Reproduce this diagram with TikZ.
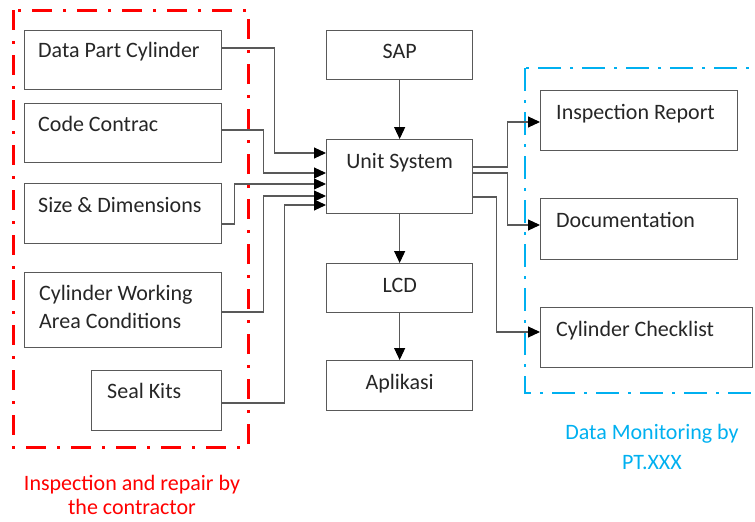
\documentclass[tikz,border=0pt]{standalone}
\usepackage{fontspec}
\setmainfont{Carlito}
\usepackage{tikz}
\usetikzlibrary{arrows.meta}
\usetikzlibrary{calc}
\usetikzlibrary{positioning}
\definecolor{linegray}{HTML}{595959}
\definecolor{framered}{HTML}{FF0000}
\definecolor{frameblue}{HTML}{00B0F0}
\tikzstyle{block} = [draw=linegray,rectangle,line width=1.3pt,anchor=north west,inner sep=0pt]
\tikzstyle{connector} = [-{Triangle[length=12pt,width=11pt,color=black]},draw=linegray,line width=1.1pt]
\tikzstyle{boxtext} = [inner sep=0pt,text=black!85,font=\fontsize{22}{28}\selectfont]
\tikzstyle{redframe} = [draw=framered,line width=3pt,dash pattern=on 20pt off 11pt on 3pt off 11pt]
\tikzstyle{blueframe} = [draw=frameblue,line width=2.5pt,dash pattern=on 23pt off 9pt on 3pt off 9pt]

\begin{document}
\begin{tikzpicture}[x=1pt,y=-1pt]
  \clip (0,0) rectangle (755,522);

  % left column
  \node[block, minimum width=197pt, minimum height=59pt] (dpc) at (24,30) {};
  \node[block, minimum width=197pt, minimum height=59pt] (code) at (24,103) {};
  \node[block, minimum width=197pt, minimum height=60pt] (size) at (24,183) {};
  \node[block, minimum width=197pt, minimum height=75pt] (cwa) at (24,272) {};
  \node[block, minimum width=130pt, minimum height=60pt] (seal) at (91,370) {};

  \node[boxtext, anchor=base west] (dpct) at ($(dpc.north west)+(14,27)$) {Data Part Cylinder};
  \node[boxtext, anchor=base west] (codet) at ($(code.north west)+(14,28)$) {Code Contrac};
  \node[boxtext, anchor=base west] (sizet) at ($(size.north west)+(14,29)$) {Size \& Dimensions};
  \node[boxtext, anchor=base west] (cwat1) at ($(cwa.north west)+(15,28)$) {Cylinder Working};
  \node[boxtext, anchor=base west] (cwat2) at ($(cwa.north west)+(15,56)$) {Area Conditions};
  \node[boxtext, anchor=base west] (sealt) at ($(seal.north west)+(16,28)$) {Seal Kits};

  % middle column
  \node[block, minimum width=146pt, minimum height=49pt] (sap) at (326,30) {};
  \node[block, minimum width=146pt, minimum height=74pt] (unit) at (326,139) {};
  \node[block, minimum width=146pt, minimum height=49pt] (lcd) at (326,263) {};
  \node[block, minimum width=146pt, minimum height=50pt] (apl) at (326,360) {};

  \node[boxtext, anchor=base] (sapt) at ($(sap.north)+(0,28)$) {SAP};
  \node[boxtext, anchor=base] (unitt) at ($(unit.north)+(0,29)$) {Unit System};
  \node[boxtext, anchor=base] (lcdt) at ($(lcd.north)+(0,29)$) {LCD};
  \node[boxtext, anchor=base] (aplt) at ($(apl.north)+(0,29)$) {Aplikasi};

  % right column
  \node[block, minimum width=197pt, minimum height=60pt] (insp) at (540,90) {};
  \node[block, minimum width=197pt, minimum height=61pt] (doc) at (540,198) {};
  \node[block, minimum width=212pt, minimum height=60pt] (check) at (540,307) {};

  \node[boxtext, anchor=base west] (inspt) at ($(insp.north west)+(16,29)$) {Inspection Report};
  \node[boxtext, anchor=base west] (doct) at ($(doc.north west)+(16,29)$) {Documentation};
  \node[boxtext, anchor=base west] (checkt) at ($(check.north west)+(16,29)$) {Cylinder Checklist};

  % frames and their captions
  \draw[redframe] (13,10) rectangle (248,447);
  \draw[blueframe] (525,68) rectangle (790,393);

  \node[boxtext, text=framered, anchor=base] (redcap1) at (132,490) {Inspection and repair by};
  \node[boxtext, text=framered, anchor=base] (redcap2) at (132,514) {the contractor};
  \node[boxtext, text=frameblue, anchor=base] (bluecap1) at (652,439) {Data Monitoring by};
  \node[boxtext, text=frameblue, anchor=base] (bluecap2) at (652,469) {PT.XXX};

% now link the nodes

\draw [connector] ($(dpc.north east)+(0,18)$) -- ++(52,0) |- ($(unit.north west)+(0,14)$);
\draw [connector] ($(code.north east)+(0,27)$) -- ++(41,0) |- ($(unit.north west)+(0,34)$);
\draw [connector] ($(size.north east)+(0,41)$) -- ++(12,0) |- ($(unit.north west)+(0,45)$);
\draw [connector] ($(cwa.north east)+(0,40)$) -- ++(41,0) |- ($(unit.north west)+(0,57)$);
\draw [connector] ($(seal.north east)+(0,33)$) -- ++(62,0) |- ($(unit.north west)+(0,66)$);
\draw [connector] (sap) -- (unit);
\draw [connector] (unit) -- (lcd);
\draw [connector] (lcd) -- (apl);
\draw [connector] ($(unit.north east)+(0,28)$) -- ++(34,0) |- ($(insp.north west)+(0,32)$);
\draw [connector] ($(unit.north east)+(0,34)$) -- ++(34,0) |- ($(doc.north west)+(0,27)$);
\draw [connector] ($(unit.north east)+(0,58)$) -- ++(23,0) |- ($(check.north west)+(0,25)$);
\end{tikzpicture}
\end{document}
